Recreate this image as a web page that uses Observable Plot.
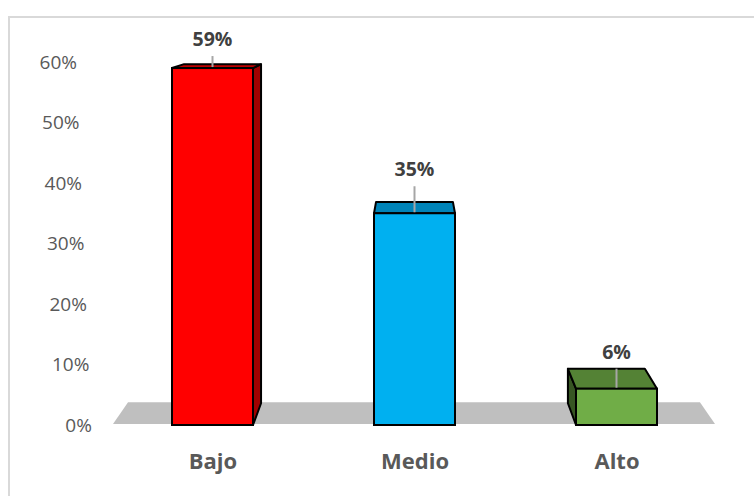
<!DOCTYPE html>
<html><head><meta charset="utf-8">
<script src="https://cdn.jsdelivr.net/npm/d3@7"></script>
<script src="https://cdn.jsdelivr.net/npm/@observablehq/plot@0.6"></script>
<style>
html,body{margin:0;padding:0;background:#fff;overflow:hidden;width:754px;height:496px}
#frame{position:absolute;left:8px;top:16px;width:800px;height:600px;border-left:2px solid #d9d9d9;border-top:2px solid #d9d9d9}
#chart{position:absolute;left:0;top:0}
</style></head><body><div id="frame"></div><div id="chart"></div>
<script>
const categories = ["Bajo", "Medio", "Alto"];
const values = [0.59, 0.35, 0.06];
const valueLabels = ["59%", "35%", "6%"];
const yTicks = [0, 0.1, 0.2, 0.3, 0.4, 0.5, 0.6];
const yTickLabels = ["0%", "10%", "20%", "30%", "40%", "50%", "60%"];
const frontColors = ["#FF0000", "#00B0F0", "#70AD47"];
const topColors = ["#C00000", "#0084B8", "#548235"];
const sideColors = ["#A00000", "#006C99", "#375623"];
const labelLift = [29, 44, 37];

const data = categories.map((c, i) => ({cat: c, value: values[i], label: valueLabels[i],
  front: frontColors[i], top: topColors[i], side: sideColors[i], lift: labelLift[i]}));
const ticks = yTicks.map((t, i) => ({t, label: yTickLabels[i]}));

const K = 0.05;
const FONT = "'Open Sans', 'Noto Sans', sans-serif";
function eyeOf(s, dim) {
  const r0 = dim.marginLeft, r1 = dim.width - dim.marginRight;
  return [(r0 + r1) / 2, s.y(0.6) - 72];
}
function proj(p, E) { return [p[0] + K * (E[0] - p[0]), p[1] + K * (E[1] - p[1])]; }
function pts(a) { return a.map(p => p.join(",")).join(" "); }

const floorMark = (index, s, v, dim) => {
  const E = eyeOf(s, dim);
  const y0 = s.y(0) - 1;
  const a = [dim.marginLeft + 2, y0], b = [dim.width - dim.marginRight - 2, y0];
  const g = d3.create("svg:g");
  g.append("polygon").attr("points", pts([a, b, proj(b, E), proj(a, E)])).attr("fill", "#BFBFBF");
  return g.node();
};

const facesMark = (index, s, v, dim) => {
  const E = eyeOf(s, dim);
  const bw = s.x.bandwidth();
  const g = d3.create("svg:g").attr("stroke", "#000").attr("stroke-width", 2).attr("stroke-linejoin", "round");
  for (const d of data) {
    const x0 = s.x(d.cat), x1 = x0 + bw, yt = s.y(d.value), yb = s.y(0);
    if (x1 < E[0]) {
      g.append("polygon").attr("fill", d.side)
        .attr("points", pts([[x1, yt], [x1, yb], proj([x1, yb], E), proj([x1, yt], E)]));
    } else if (x0 > E[0]) {
      g.append("polygon").attr("fill", d.side)
        .attr("points", pts([[x0, yt], [x0, yb], proj([x0, yb], E), proj([x0, yt], E)]));
    }
    g.append("polygon").attr("fill", d.top)
      .attr("points", pts([[x0, yt], [x1, yt], proj([x1, yt], E), proj([x0, yt], E)]));
  }
  return g.node();
};

const labelsMark = (index, s, v, dim) => {
  const bw = s.x.bandwidth();
  const g = d3.create("svg:g");
  for (const d of data) {
    const cx = s.x(d.cat) + bw / 2, yt = s.y(d.value), ly = yt - d.lift;
    g.append("line").attr("x1", cx).attr("x2", cx).attr("y1", ly + 17).attr("y2", yt - 1)
      .attr("stroke", "#A6A6A6").attr("stroke-width", 2);
    g.append("text").attr("x", cx).attr("y", ly).attr("dy", "0.35em")
      .attr("text-anchor", "middle").attr("font-family", FONT).attr("font-weight", 700)
      .attr("font-size", 19.5).attr("fill", "#404040").text(d.label);
  }
  return g.node();
};

const yAxisMark = (index, s, v, dim) => {
  const g = d3.create("svg:g");
  for (const d of ticks) {
    const y = s.y(d.t);
    const xr = dim.marginLeft - 34 + (y - dim.marginTop) * 0.041;
    g.append("text").attr("x", xr).attr("y", y).attr("dy", "0.35em")
      .attr("text-anchor", "end").attr("font-family", FONT).attr("font-size", 19)
      .attr("fill", "#595959").text(d.label);
  }
  return g.node();
};

const chart = Plot.plot({
  width: 754,
  height: 496,
  marginTop: 62,
  marginBottom: 71,
  marginLeft: 111,
  marginRight: 37,
  x: {domain: categories, paddingInner: 0.6, paddingOuter: 0.3, axis: null},
  y: {domain: [0, 0.6], axis: null},
  color: {type: "identity"},
  style: {background: "transparent", fontFamily: FONT},
  marks: [
    floorMark,
    facesMark,
    Plot.barY(data, {x: "cat", y: "value", fill: "front", stroke: "#000", strokeWidth: 2}),
    labelsMark,
    yAxisMark,
    Plot.text(categories, {x: d => d, y: () => 0, dy: 36, fontSize: 22, fontWeight: 700,
      fill: "#595959", fontFamily: FONT})
  ]
});
document.getElementById("chart").appendChild(chart);
</script></body></html>
